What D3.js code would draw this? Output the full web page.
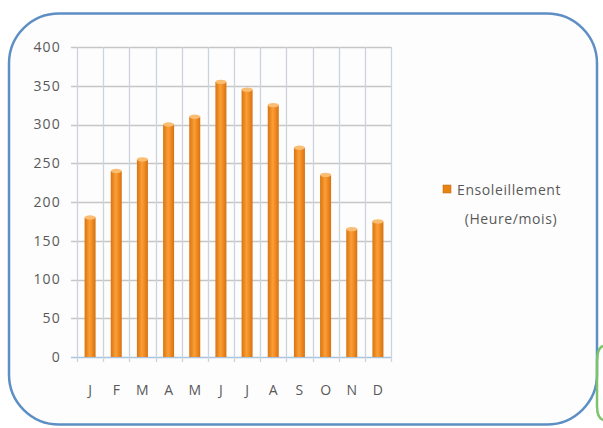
<!DOCTYPE html>
<html><head><meta charset="utf-8">
<script src="https://cdn.jsdelivr.net/npm/d3@7"></script>
<style>body{margin:0;background:#fff}svg{display:block}</style>
</head><body>
<svg id="c" width="603" height="428"></svg>
<script>
const months = ["J","F","M","A","M","J","J","A","S","O","N","D"];
const sunshine = [180,240,255,300,310,355,345,325,270,235,165,175];
const yTicks = [0,50,100,150,200,250,300,350,400];
const seriesName = ["Ensoleillement","(Heure/mois)"];

const FONT = "'Open Sans', Lato, sans-serif";
const svg = d3.select("#c");
const defs = svg.append("defs");
const g1 = defs.append("linearGradient").attr("id","bar").attr("x1","0").attr("x2","1").attr("y1","0").attr("y2","0");
g1.append("stop").attr("offset","0").attr("stop-color","#d8740f");
g1.append("stop").attr("offset","0.45").attr("stop-color","#fb9e36");
g1.append("stop").attr("offset","0.6").attr("stop-color","#f7922a");
g1.append("stop").attr("offset","1").attr("stop-color","#d5720f");

// frame
svg.append("rect").attr("x",9).attr("y",13.5).attr("width",588).attr("height",411).attr("rx",50).attr("ry",50)
  .attr("fill","#fdfdfd").attr("stroke","#5e8fc4").attr("stroke-width",2.5);
// green fragment at right edge
svg.append("path").attr("d","M603,346 Q597,348 597,362 L597,406 Q597,418 603,420")
  .attr("fill","none").attr("stroke","#7cc46a").attr("stroke-width",2.5);

const x = d3.scaleBand().domain(d3.range(months.length)).range([77,391]).paddingInner(0).paddingOuter(0);
const y = d3.scaleLinear().domain([0,400]).range([357,47]);

const grid = svg.append("g");
grid.selectAll("line.h").data(yTicks).join("line")
  .attr("x1",71).attr("x2",391).attr("y1",d=>Math.round(y(d))+0.5).attr("y2",d=>Math.round(y(d))+0.5)
  .attr("stroke",d=>d===0?"#a9c4e0":"#c6c6c6").attr("stroke-width",1.3);
const bounds = d3.range(months.length+1).map(i=> i<months.length ? x(i) : x(months.length-1)+x.bandwidth());
grid.selectAll("line.v").data(bounds).join("line")
  .attr("x1",d=>Math.round(d)+0.5).attr("x2",d=>Math.round(d)+0.5).attr("y1",47).attr("y2",362)
  .attr("stroke","#cdd3da").attr("stroke-width",1.3);

// bars
const bw = 11;
const bars = svg.append("g");
bars.selectAll("rect").data(sunshine).join("rect")
  .attr("x",(d,i)=>x(i)+x.bandwidth()/2-bw/2).attr("width",bw)
  .attr("y",d=>y(d)).attr("height",d=>y(0)-y(d))
  .attr("fill","url(#bar)");
bars.selectAll("ellipse").data(sunshine).join("ellipse")
  .attr("cx",(d,i)=>x(i)+x.bandwidth()/2).attr("cy",d=>y(d)).attr("rx",bw/2).attr("ry",2.2)
  .attr("fill","#fbbd72");

// y labels
svg.append("g").selectAll("text").data(yTicks).join("text")
  .attr("x",61).attr("y",d=>y(d)).attr("dy","0.35em").attr("text-anchor","end")
  .attr("font-family",FONT).attr("font-size",14).attr("letter-spacing",1.2).attr("fill","#595959")
  .text(d=>d);
// x labels
svg.append("g").selectAll("text").data(months).join("text")
  .attr("x",(d,i)=>x(i)+x.bandwidth()/2).attr("y",395).attr("text-anchor","middle")
  .attr("font-family",FONT).attr("font-size",14).attr("fill","#595959")
  .text(d=>d);

// legend
const lg = svg.append("g");
lg.append("rect").attr("x",443).attr("y",185).attr("width",8).attr("height",8).attr("fill","#e9820f").attr("stroke","#b86410").attr("stroke-width",0.5);
lg.append("text").attr("x",457).attr("y",194.5).attr("font-family",FONT).attr("font-size",14).attr("letter-spacing",0.6).attr("fill","#595959").text(seriesName[0]);
lg.append("text").attr("x",511).attr("y",224).attr("text-anchor","middle").attr("font-family",FONT).attr("font-size",14).attr("letter-spacing",0.6).attr("fill","#595959").text(seriesName[1]);
</script>
</body></html>
